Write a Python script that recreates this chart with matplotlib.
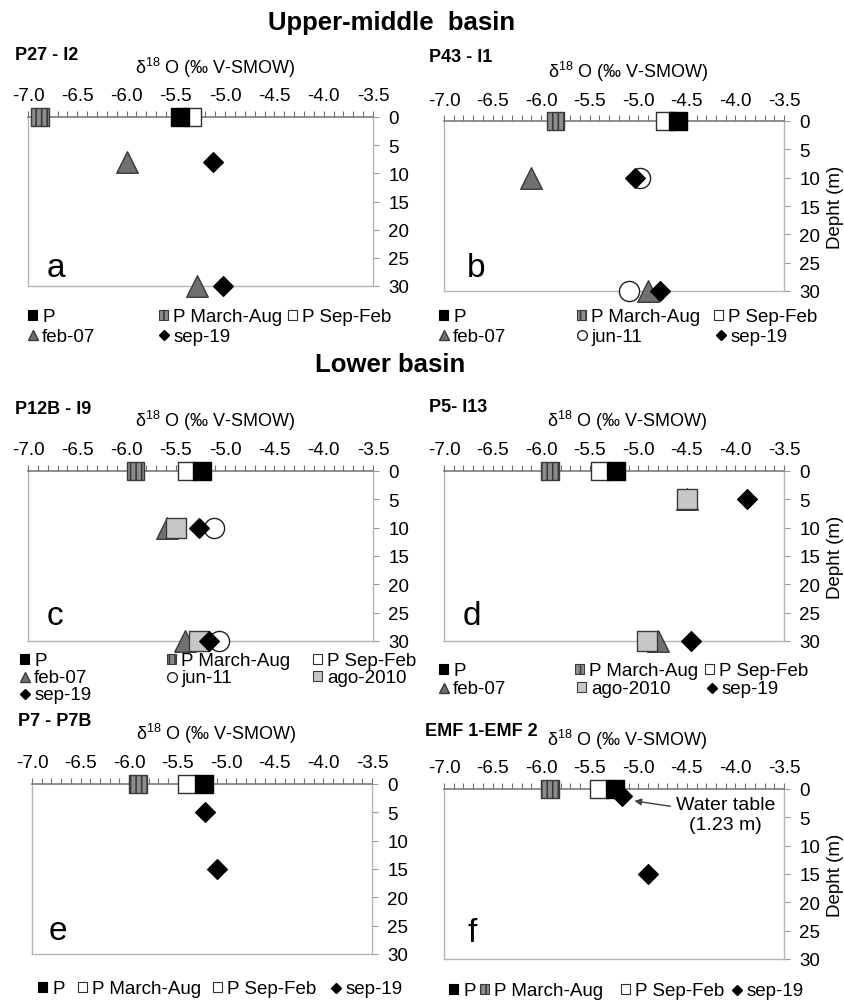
import matplotlib
matplotlib.use("Agg")
import matplotlib.pyplot as plt
from matplotlib.lines import Line2D
from matplotlib.patches import Patch
from matplotlib.ticker import MultipleLocator, FormatStrFormatter

plt.rcParams['font.family'] = ['Liberation Sans', 'DejaVu Sans']
plt.rcParams['mathtext.fontset'] = 'custom'
plt.rcParams['mathtext.rm'] = 'Liberation Sans'
plt.rcParams['mathtext.it'] = 'Liberation Sans'
plt.rcParams['axes.unicode_minus'] = False
plt.rcParams['hatch.linewidth'] = 1.2

# ---------------- data (δ18O ‰ V-SMOW, depth m) ----------------
x_ticks = [-7.0, -6.5, -6.0, -5.5, -5.0, -4.5, -4.0, -3.5]
depth_ticks = [0, 5, 10, 15, 20, 25, 30]

# a) P27 - I2
a_P, a_PMA, a_PSF = [-5.46], [-6.88], [-5.34]
a_feb07_x, a_feb07_d = [-6.00, -5.29], [8, 30]
a_sep19_x, a_sep19_d = [-5.12, -5.02], [8, 30]

# b) P43 - I1
b_P, b_PMA, b_PSF = [-4.59], [-5.85], [-4.72]
b_feb07_x, b_feb07_d = [-6.10, -4.90], [10, 30]
b_jun11_x, b_jun11_d = [-4.98, -5.10], [10, 30]
b_sep19_x, b_sep19_d = [-5.03, -4.78], [10, 30]

# c) P12B - I9
c_P, c_PMA, c_PSF = [-5.23], [-5.91], [-5.39]
c_feb07_x, c_feb07_d = [-5.59, -5.41], [10, 30]
c_jun11_x, c_jun11_d = [-5.11, -5.06], [10, 30]
c_ago10_x, c_ago10_d = [-5.50, -5.27], [10, 30]
c_sep19_x, c_sep19_d = [-5.27, -5.16], [10, 30]

# d) P5 - I13
d_P, d_PMA, d_PSF = [-5.23], [-5.91], [-5.39]
d_feb07_x, d_feb07_d = [-4.50, -4.80], [5, 30]
d_ago10_x, d_ago10_d = [-4.50, -4.91], [5, 30]
d_sep19_x, d_sep19_d = [-3.88, -4.46], [5, 30]

# e) P7 - P7B
e_P, e_PMA, e_PSF = [-5.23], [-5.91], [-5.40]
e_sep19_x, e_sep19_d = [-5.22, -5.10], [5, 15]

# f) EMF 1 - EMF 2
f_P, f_PMA, f_PSF = [-5.24], [-5.91], [-5.40]
f_sep19_x, f_sep19_d = [-5.17, -4.90], [1.23, 15]
water_table_depth = 1.23

# ---------------- styles ----------------
STY = {
    'P':     dict(marker='s', ms=12.5, fc='black', ec='black', hatch=None),
    'PMA':   dict(marker='s', ms=12.5, fc='#8c8c8c', ec='#3a3a3a', hatch='|||'),
    'PSF':   dict(marker='s', ms=12.5, fc='white', ec='#303030', hatch=None),
    'feb07': dict(marker='^', ms=15.5, fc='#707070', ec='#3a3a3a', hatch=None),
    'jun11': dict(marker='o', ms=14.5, fc='white', ec='#202020', hatch=None),
    'ago10': dict(marker='s', ms=14, fc='#c8c8c8', ec='#3a3a3a', hatch=None),
    'sep19': dict(marker='D', ms=10, fc='black', ec='black', hatch=None),
}
LABELS = {'P': 'P', 'PMA': 'P March-Aug', 'PSF': 'P Sep-Feb', 'feb07': 'feb-07',
          'jun11': 'jun-11', 'ago10': 'ago-2010', 'sep19': 'sep-19'}

W, H = 844, 1003
fig = plt.figure(figsize=(W / 100, H / 100), dpi=100)


def fx(px):
    return px / W


def fy(py):
    return 1 - py / H


def add_axes(left, top, right, bottom):
    return fig.add_axes([fx(left), fy(bottom), (right - left) / W, (bottom - top) / H])


def draw(ax, key, xs, ds, z):
    st = STY[key]
    kw = dict(s=st['ms'] ** 2, marker=st['marker'], facecolors=st['fc'],
              edgecolors=st['ec'], linewidths=1.0, clip_on=False, zorder=z)
    if st['hatch']:
        kw['hatch'] = st['hatch']
    ax.scatter(xs, ds, **kw)


def style_axes(ax, depth_label):
    ax.set_xlim(-7.0, -3.5)
    ax.set_ylim(30, 0)
    ax.xaxis.tick_top()
    ax.yaxis.tick_right()
    ax.set_xticks(x_ticks)
    ax.xaxis.set_major_formatter(FormatStrFormatter('%.1f'))
    ax.xaxis.set_minor_locator(MultipleLocator(0.1))
    ax.set_yticks(depth_ticks)
    ax.tick_params(axis='x', which='both', direction='out', length=4, width=0.8,
                   color='#707070', labelsize=13.5, pad=5, top=True, bottom=False,
                   labeltop=True, labelbottom=False)
    ax.tick_params(axis='y', which='both', direction='out', length=4, width=0.8,
                   color='#9a9a9a', labelsize=13.5, pad=7, right=True, left=False,
                   labelright=True, labelleft=False)
    for s in ['left', 'right', 'bottom']:
        ax.spines[s].set_color('#b5b5b5')
        ax.spines[s].set_linewidth(1.0)
    ax.spines['top'].set_color('#7a7a7a')
    ax.spines['top'].set_linewidth(1.2)
    if depth_label:
        ax.yaxis.set_label_position('right')
        ax.set_ylabel('Depht (m)', fontsize=13.5, labelpad=5)


def legend_cell(key, x, y, variant=None):
    st = STY[key]
    if variant == 'white':
        h = Patch(facecolor='white', edgecolor='#303030', linewidth=0.8)
    elif st['marker'] == 's':
        h = Patch(facecolor=st['fc'], edgecolor=st['ec'], hatch=st['hatch'], linewidth=0.8)
    else:
        h = Line2D([], [], ls='none', marker=st['marker'], ms=7 if st['marker'] != 'D' else 5.5,
                   mfc=st['fc'], mec=st['ec'])
    fig.legend(handles=[h], labels=[LABELS[key]], loc='center left',
               bbox_to_anchor=(fx(x), fy(y)), frameon=False, borderpad=0, borderaxespad=0,
               handlelength=0.5, handleheight=0.5, handletextpad=0.25, fontsize=13.5)


XLAB = r'δ$^{18}$ O (‰ V-SMOW)'

# ---------------- section titles ----------------
fig.text(fx(392), fy(23), 'Upper-middle  basin', fontsize=18.5, fontweight='bold',
         ha='center', va='center')
fig.text(fx(390), fy(365), 'Lower basin', fontsize=18.5, fontweight='bold',
         ha='center', va='center')

# ---------------- panel a ----------------
ax = add_axes(28, 118, 373, 287)
style_axes(ax, False)
draw(ax, 'PMA', a_PMA, [0], 5)
draw(ax, 'PSF', a_PSF, [0], 5)
draw(ax, 'P', a_P, [0], 6)
draw(ax, 'feb07', a_feb07_x, a_feb07_d, 5)
draw(ax, 'sep19', a_sep19_x, a_sep19_d, 6)
fig.text(fx(15), fy(55), 'P27 - I2', fontsize=13, fontweight='bold', va='center')
fig.text(fx(215), fy(68), XLAB, fontsize=13, ha='center', va='center')
fig.text(fx(47), fy(277), 'a', fontsize=24, va='baseline')
for k, x, y in [('P', 28, 318), ('PMA', 159, 318), ('PSF', 288, 318),
                ('feb07', 28, 337), ('sep19', 159, 337)]:
    legend_cell(k, x, y)

# ---------------- panel b ----------------
ax = add_axes(444, 122, 784, 292)
style_axes(ax, True)
draw(ax, 'PMA', b_PMA, [0], 5)
draw(ax, 'PSF', b_PSF, [0], 5)
draw(ax, 'P', b_P, [0], 6)
draw(ax, 'feb07', b_feb07_x, b_feb07_d, 5)
draw(ax, 'jun11', b_jun11_x, b_jun11_d, 5)
draw(ax, 'sep19', b_sep19_x, b_sep19_d, 6)
fig.text(fx(429), fy(58), 'P43 - I1', fontsize=13, fontweight='bold', va='center')
fig.text(fx(628), fy(72), XLAB, fontsize=13, ha='center', va='center')
fig.text(fx(467), fy(277), 'b', fontsize=24, va='baseline')
for k, x, y in [('P', 439, 318), ('PMA', 577, 318), ('PSF', 714, 318),
                ('feb07', 439, 337), ('jun11', 577, 337), ('sep19', 716, 337)]:
    legend_cell(k, x, y)

# ---------------- panel c ----------------
ax = add_axes(28, 472, 373, 642)
style_axes(ax, False)
draw(ax, 'PMA', c_PMA, [0], 5)
draw(ax, 'PSF', c_PSF, [0], 5)
draw(ax, 'P', c_P, [0], 6)
draw(ax, 'feb07', c_feb07_x, c_feb07_d, 4)
draw(ax, 'jun11', c_jun11_x, c_jun11_d, 4)
draw(ax, 'ago10', c_ago10_x, c_ago10_d, 5)
draw(ax, 'sep19', c_sep19_x, c_sep19_d, 6)
fig.text(fx(15), fy(409), 'P12B - I9', fontsize=13, fontweight='bold', va='center')
fig.text(fx(215), fy(421), XLAB, fontsize=13, ha='center', va='center')
fig.text(fx(47), fy(625), 'c', fontsize=24, va='baseline')
for k, x, y in [('P', 20, 662), ('PMA', 167, 662), ('PSF', 313, 662),
                ('feb07', 20, 679), ('jun11', 167, 679), ('ago10', 313, 679),
                ('sep19', 20, 696)]:
    legend_cell(k, x, y)

# ---------------- panel d ----------------
ax = add_axes(444, 472, 784, 642)
style_axes(ax, True)
draw(ax, 'PMA', d_PMA, [0], 5)
draw(ax, 'PSF', d_PSF, [0], 5)
draw(ax, 'P', d_P, [0], 6)
draw(ax, 'feb07', d_feb07_x, d_feb07_d, 4)
draw(ax, 'ago10', d_ago10_x, d_ago10_d, 5)
draw(ax, 'sep19', d_sep19_x, d_sep19_d, 6)
fig.text(fx(429), fy(408), 'P5- I13', fontsize=13, fontweight='bold', va='center')
fig.text(fx(627), fy(421), XLAB, fontsize=13, ha='center', va='center')
fig.text(fx(463), fy(625), 'd', fontsize=24, va='baseline')
for k, x, y in [('P', 439, 672), ('PMA', 575, 672), ('PSF', 705, 672),
                ('feb07', 439, 690), ('ago10', 577, 690), ('sep19', 707, 690)]:
    legend_cell(k, x, y)

# ---------------- panel e ----------------
ax = add_axes(32, 785, 372, 955)
style_axes(ax, False)
draw(ax, 'PMA', e_PMA, [0], 5)
draw(ax, 'PSF', e_PSF, [0], 5)
draw(ax, 'P', e_P, [0], 6)
draw(ax, 'sep19', e_sep19_x, e_sep19_d, 6)
fig.text(fx(18), fy(722), 'P7 - P7B', fontsize=13, fontweight='bold', va='center')
fig.text(fx(216), fy(734), XLAB, fontsize=13, ha='center', va='center')
fig.text(fx(49), fy(940), 'e', fontsize=24, va='baseline')
legend_cell('P', 38, 990)
legend_cell('PMA', 78, 990, variant='white')
legend_cell('PSF', 213, 990)
legend_cell('sep19', 331, 990)

# ---------------- panel f ----------------
ax = add_axes(444, 790, 784, 960)
style_axes(ax, True)
draw(ax, 'PMA', f_PMA, [0], 5)
draw(ax, 'PSF', f_PSF, [0], 5)
draw(ax, 'P', f_P, [0], 6)
draw(ax, 'sep19', f_sep19_x, f_sep19_d, 6)
ax.annotate('Water table\n(%.2f m)' % water_table_depth,
            xy=(-5.04, 2.1), xytext=(-4.10, 4.5), textcoords='data',
            fontsize=14, ha='center', va='center', multialignment='center',
            linespacing=1.3,
            arrowprops=dict(arrowstyle='-|>', color='#404040', lw=1.0,
                            mutation_scale=10, shrinkA=2, shrinkB=0))
fig.text(fx(425), fy(732), 'EMF 1-EMF 2', fontsize=13, fontweight='bold', va='center')
fig.text(fx(627), fy(740), XLAB, fontsize=13, ha='center', va='center')
fig.text(fx(468), fy(942), 'f', fontsize=24, va='baseline')
legend_cell('P', 449, 992)
legend_cell('PMA', 480, 992)
legend_cell('PSF', 621, 992)
legend_cell('sep19', 732, 992)

fig.savefig('out.png', dpi=100)
